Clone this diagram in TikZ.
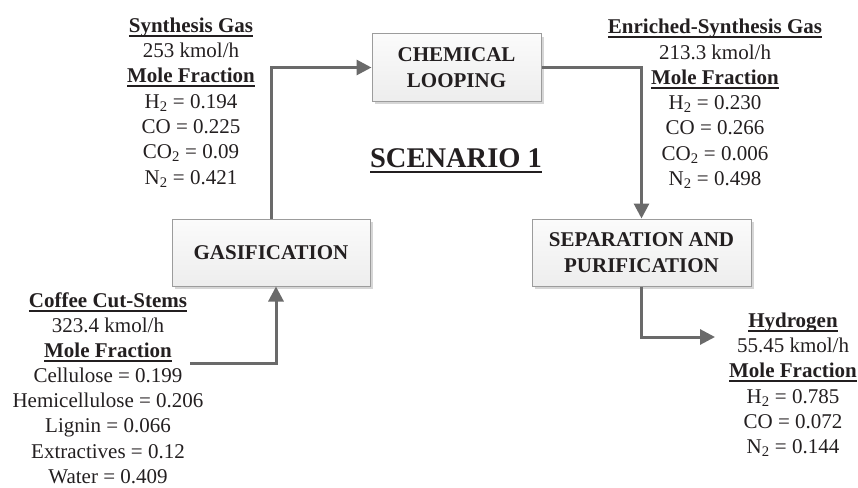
\documentclass[tikz,border=0pt]{standalone}
\usepackage{fontspec}
\setmainfont{Liberation Serif}
\usetikzlibrary{arrows.meta,shadows}
\definecolor{txt}{HTML}{231F20}
\definecolor{arrowgray}{HTML}{6A6A6A}
\definecolor{boxline}{HTML}{9C9C9C}
\definecolor{shadowgray}{HTML}{D6D6D6}
\newcommand\myul[1]{\setbox0\hbox{#1}\rlap{\vrule height -2.6pt depth 4.6pt width \wd0}\box0}
\newcommand\mybigul[1]{\setbox0\hbox{#1}\rlap{\vrule height -3.2pt depth 6.0pt width \wd0}\box0}
\begin{document}
\begin{tikzpicture}[x=1pt,y=-1pt,
  proc/.style={draw=boxline, line width=1pt, top color=white!60!gray!8, bottom color=gray!14,
    drop shadow={shadow xshift=3pt, shadow yshift=-3pt, fill=shadowgray, opacity=1},
    align=center, text=txt, font=\fontsize{21}{25.3}\selectfont\bfseries, inner sep=0pt},
  info/.style={align=center, text=txt, font=\fontsize{21}{25.3}\selectfont, inner sep=0pt, anchor=north},
  arr/.style={draw=arrowgray, line width=3pt, -{Triangle[length=15pt,width=15pt]}}
]
\useasboundingbox (0,0) rectangle (858,487);

\node[proc, minimum width=169pt, minimum height=67pt] (chem) at (456.5,67.5) {CHEMICAL\\LOOPING};
\node[proc, minimum width=198pt, minimum height=67pt] (gas) at (271,252.5) {GASIFICATION};
\node[proc, minimum width=219pt, minimum height=67pt] (sep) at (641.5,252.5) {SEPARATION AND\\PURIFICATION};

\node[text=txt, font=\fontsize{28.5}{30}\selectfont\bfseries, inner sep=0pt] (scen) at (456,161) {\mybigul{SCENARIO 1}};

\node[info] (syn) at (191,17.5) {\myul{\bfseries Synthesis Gas}\\253 kmol/h\\\myul{\bfseries Mole Fraction}\\H\textsubscript{2} = 0.194\\CO = 0.225\\CO\textsubscript{2} = 0.09\\N\textsubscript{2} = 0.421};

\node[info] (enr) at (715,19) {\myul{\bfseries Enriched-Synthesis Gas}\\213.3 kmol/h\\\myul{\bfseries Mole Fraction}\\H\textsubscript{2} = 0.230\\CO = 0.266\\CO\textsubscript{2} = 0.006\\N\textsubscript{2} = 0.498};

\node[info, font=\fontsize{21}{25.1}\selectfont] (cof) at (108,292.5) {\myul{\bfseries Coffee Cut-Stems}\\323.4 kmol/h\\\myul{\bfseries Mole Fraction}\\Cellulose = 0.199\\Hemicellulose = 0.206\\Lignin = 0.066\\Extractives = 0.12\\Water = 0.409};

\node[info] (hyd) at (793,312.5) {\myul{\bfseries Hydrogen}\\55.45 kmol/h\\\myul{\bfseries Mole Fraction}\\H\textsubscript{2} = 0.785\\CO = 0.072\\N\textsubscript{2} = 0.144};

\coordinate (cin) at (190,363);
\coordinate (hout) at (715,337);

\draw[arr] (gas.north) |- (chem.west);
\draw[arr] (chem.east) -| (sep.north);
\draw[arr] (sep.south) |- (hout);
\draw[arr] (cin) -| ([xshift=5pt]gas.south);
\end{tikzpicture}
\end{document}
